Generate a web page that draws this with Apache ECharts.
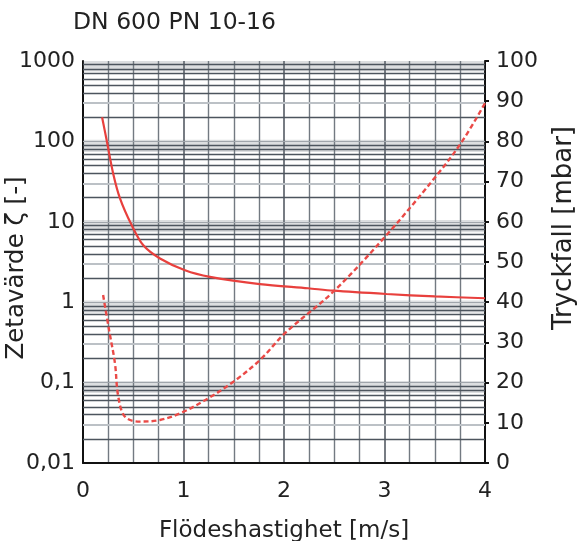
<!DOCTYPE html>
<html>
<head>
<meta charset="utf-8">
<script src="https://cdn.jsdelivr.net/npm/echarts@6/dist/echarts.min.js"></script>
<style>
html,body{margin:0;padding:0;background:#fff;}
#chart{width:577px;height:541px;}
</style>
</head>
<body>
<div id="chart"></div>
<script>
// ---- data ----
const titleText = 'DN 600 PN 10-16';
const xName = 'Flödeshastighet [m/s]';
const leftName = 'Zetavärde ζ [-]';
const rightName = 'Tryckfall [mbar]';

// Zeta value (left, log axis)
const zetaX = [0.19, 0.235, 0.30, 0.368, 0.484, 0.60, 0.766, 1.015, 1.264, 1.76, 2.24, 2.49, 3.02, 3.5, 4.0];
const zetaY = [200, 104, 40, 19.6, 9.1, 5.1, 3.5, 2.5, 2.07, 1.68, 1.49, 1.39, 1.265, 1.18, 1.12];

// Pressure drop (right, linear axis, mbar)
const dropX = [0.2, 0.26, 0.318, 0.351, 0.418, 0.567, 0.766, 0.98, 1.247, 1.496, 1.76, 2.01, 2.49, 3.02, 3.55, 3.78, 4.0];
const dropY = [41.8, 33, 24.8, 16.5, 11.5, 10.3, 10.7, 12.5, 16.1, 20.2, 25.6, 32.3, 42.6, 56.7, 72.5, 80.3, 89.5];

// tick labels
const leftTickValues = [0.01, 0.1, 1, 10, 100, 1000];
const leftTickLabels = ['0,01', '0,1', '1', '10', '100', '1000'];
const xTickLabels = ['0', '1', '2', '3', '4'];

// log grid decoration
const decadeBases = [0.01, 0.1, 1, 10, 100];
const darkMults = [2, 4, 5, 6, 7, 8, 9];
const lightMults = [3];
const bandTops = [1000, 100, 10, 1, 0.1];

// ---- build ----
const zetaData = zetaX.map((x, i) => [x, zetaY[i]]);
const dropData = dropX.map((x, i) => [x, dropY[i]]);

const hLines = [];
decadeBases.forEach(b => {
  darkMults.forEach(m => hLines.push({yAxis: b * m, lineStyle: {color: '#4d555e', width: 1.3, type: 'solid'}}));
  lightMults.forEach(m => hLines.push({yAxis: b * m, lineStyle: {color: '#bcc1c6', width: 2, type: 'solid'}}));
});
decadeBases.slice(1).forEach(b => hLines.push({yAxis: b, lineStyle: {color: '#a0a5ab', width: 1, type: 'solid'}}));

const bands = bandTops.map(t => [{yAxis: t * 0.74}, {yAxis: Math.min(t * 1.05, 1000)}]);

const FONT = 'DejaVu Sans';
const chart = echarts.init(document.getElementById('chart'), null, {renderer: 'canvas'});
chart.setOption({
  animation: false,
  backgroundColor: '#fff',
  textStyle: {fontFamily: FONT},
  title: {
    text: titleText, left: 73, top: 11, padding: 0,
    textStyle: {fontFamily: FONT, fontSize: 23.5, fontWeight: 'normal', color: '#222'}
  },
  grid: {left: 83, right: 92, top: 61, bottom: 78, containLabel: false, outerBoundsMode: 'none'},
  xAxis: {
    type: 'value', min: 0, max: 4, interval: 1,
    name: xName, nameLocation: 'middle', nameGap: 57,
    nameTextStyle: {fontFamily: FONT, fontSize: 23, color: '#222'},
    axisLine: {show: true, onZero: false, lineStyle: {color: '#111', width: 2}},
    axisTick: {show: false},
    axisLabel: {margin: 17, fontSize: 22, color: '#222', fontFamily: FONT,
      formatter: v => xTickLabels[Math.round(v)] ?? ''},
    splitLine: {show: true, lineStyle: {color: '#4a515a', width: 1.5}},
    minorTick: {show: false, splitNumber: 4},
    minorSplitLine: {show: true, lineStyle: {color: '#737a82', width: 1.4}}
  },
  yAxis: [
    {
      type: 'log', logBase: 10, min: 0.01, max: 1000, splitNumber: 5,
      position: 'left',
      axisLine: {show: true, lineStyle: {color: '#111', width: 2}},
      axisTick: {show: false},
      axisLabel: {margin: 8, fontSize: 22, color: '#222', fontFamily: FONT,
        formatter: v => {
          const i = leftTickValues.findIndex(t => Math.abs(Math.log10(t) - Math.log10(v)) < 1e-6);
          return i >= 0 ? leftTickLabels[i] : '';
        }},
      splitLine: {show: false}
    },
    {
      type: 'value', min: 0, max: 100, interval: 10,
      position: 'right',
      axisLine: {show: true, lineStyle: {color: '#111', width: 2}},
      axisTick: {show: true, inside: false, length: 4, lineStyle: {color: '#111', width: 2}},
      axisLabel: {margin: 11, fontSize: 22, color: '#222', fontFamily: FONT},
      splitLine: {show: false}
    }
  ],
  graphic: [
    {type: 'text', x: 17, y: 268, rotation: Math.PI / 2,
      style: {text: leftName, fontFamily: FONT, fontSize: 24.5, fill: '#222', align: 'center', verticalAlign: 'middle'}},
    {type: 'text', x: 564, y: 228, rotation: Math.PI / 2,
      style: {text: rightName, fontFamily: FONT, fontSize: 26, fill: '#222', align: 'center', verticalAlign: 'middle'}}
  ],
  series: [
    {
      name: 'grid', type: 'line', yAxisIndex: 0, data: [], silent: true, z: 1,
      markArea: {silent: true, itemStyle: {color: 'rgba(120,126,134,0.26)'}, data: bands},
      markLine: {silent: true, symbol: ['none', 'none'], label: {show: false}, data: hLines}
    },
    {
      name: 'Zeta', type: 'line', yAxisIndex: 0, data: zetaData, z: 5,
      smooth: 0.3, showSymbol: false,
      lineStyle: {color: '#e8403d', width: 2.2}
    },
    {
      name: 'Tryckfall', type: 'line', yAxisIndex: 1, data: dropData, z: 5,
      smooth: 0.35, showSymbol: false,
      lineStyle: {color: '#ea4a47', width: 2.4, type: [5, 3]}
    }
  ]
});
</script>
</body>
</html>
